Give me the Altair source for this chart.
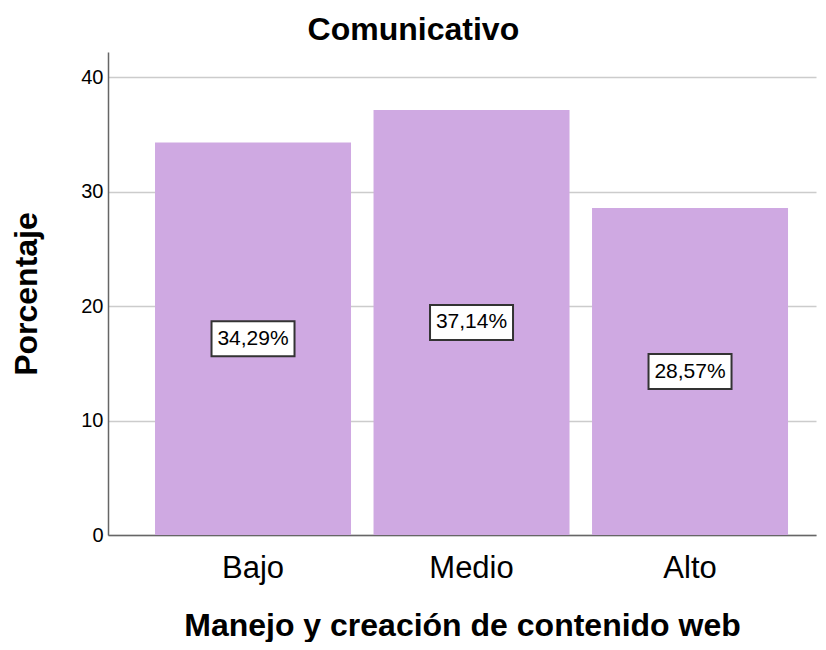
import altair as alt
import pandas as pd

categories = ["Bajo", "Medio", "Alto"]
percentages = [34.29, 37.14, 28.57]
labels = ["34,29%", "37,14%", "28,57%"]

df = pd.DataFrame({"cat": categories, "pct": percentages, "label": labels})

FONT = "Liberation Sans"

xscale = alt.Scale(paddingInner=0.103, paddingOuter=0.1716, align=0.627)
yscale = alt.Scale(domain=[0, 42.2], nice=False, zero=True)

x = alt.X(
    "cat:N",
    sort=categories,
    scale=xscale,
    axis=alt.Axis(
        title="Manejo y creación de contenido web",
        labelAngle=0,
        grid=False,
        labelFontSize=31,
        labelPadding=18,
        titleFontSize=32,
        titlePadding=27,
    ),
)

y_axis = alt.Axis(
    title="Porcentaje",
    values=[0, 10, 20, 30, 40],
    grid=True,
    labelFontSize=20,
    labelPadding=5,
    titleFontSize=32,
    titlePadding=37,
)

base = alt.Chart(df)

bars = base.mark_bar(color="#cfa9e2").encode(
    x=x,
    y=alt.Y("pct:Q", scale=yscale, axis=y_axis),
)

boxes = base.transform_calculate(mid="datum.pct / 2").mark_point(
    shape="M-41.5,-17.5H41.5V17.5H-41.5Z",
    size=4,
    filled=True,
    fill="white",
    stroke="#333333",
    strokeWidth=2,
    opacity=1,
).encode(
    x=x,
    y=alt.Y("mid:Q", scale=yscale, axis=y_axis),
)

texts = base.transform_calculate(mid="datum.pct / 2").mark_text(
    font=FONT, fontSize=21, color="black", baseline="middle", align="center"
).encode(
    x=x,
    y=alt.Y("mid:Q", scale=yscale, axis=y_axis),
    text="label:N",
)

chart = (
    alt.layer(bars, boxes, texts)
    .properties(
        width=708,
        height=483,
        autosize=alt.AutoSizeParams(type="none"),
        padding={"left": 100, "top": 44, "right": 2, "bottom": 107},
        title=alt.TitleParams(
            "Comunicativo",
            fontSize=32,
            font=FONT,
            fontWeight="bold",
            anchor="middle",
            frame="bounds",
            baseline="alphabetic",
            offset=10,
            dy=30,
            color="black",
        ),
    )
    .configure_view(stroke=None)
    .configure_axis(
        labelFont=FONT,
        titleFont=FONT,
        titleFontWeight="bold",
        labelColor="black",
        titleColor="black",
        domainColor="#666666",
        domainWidth=1.5,
        gridColor="#cccccc",
        gridWidth=1.5,
        ticks=False,
        tickSize=0,
    )
)

chart.save("out.html", embed_options={"renderer": "svg", "actions": False})
